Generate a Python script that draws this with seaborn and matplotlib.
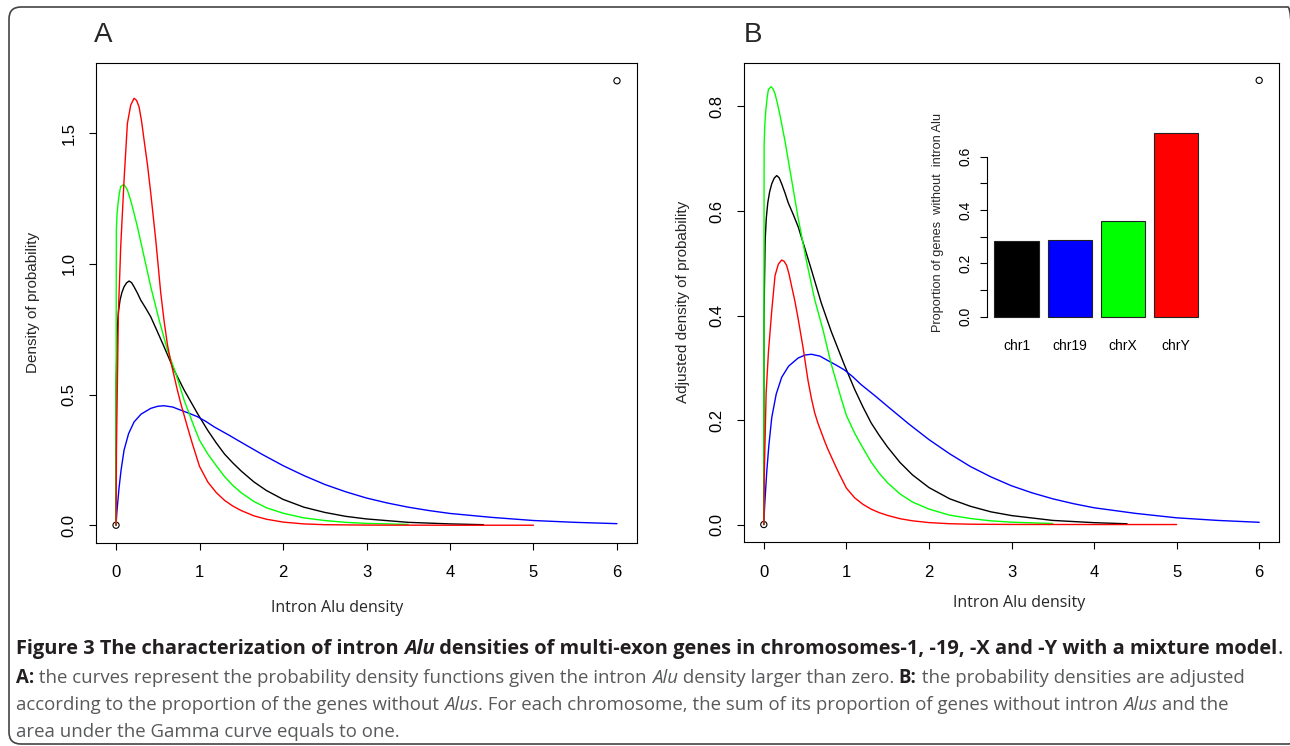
import numpy as np
import pandas as pd
import seaborn as sns
import matplotlib.pyplot as plt
from matplotlib.patches import FancyBboxPatch
from matplotlib.transforms import IdentityTransform

# ---- data ----
chroms = ["chr1", "chr19", "chrX", "chrY"]
chrom_colors = ["#000000", "#0000FF", "#00FF00", "#FF0000"]
prop_no_alu = [0.285, 0.287, 0.357, 0.69]

# panel A densities (Gamma curves for intron Alu density > 0)
chr1_x = [0, 0.002, 0.016, 0.03, 0.048, 0.07, 0.096, 0.126, 0.156, 0.186, 0.216,
          0.256, 0.296, 0.356, 0.416, 0.496, 0.576, 0.696, 0.816, 0.976, 1.1, 1.2,
          1.3, 1.4, 1.5, 1.65, 1.8, 2.0, 2.25, 2.5, 2.75, 3.0, 3.5, 4.0, 4.4]
chr1_y = [0, 0.555, 0.759, 0.82, 0.861, 0.89, 0.912, 0.927, 0.934, 0.928, 0.912,
          0.888, 0.861, 0.83, 0.797, 0.74, 0.682, 0.593, 0.517, 0.427, 0.362, 0.315,
          0.272, 0.238, 0.207, 0.166, 0.133, 0.099, 0.069, 0.049, 0.034, 0.024, 0.011,
          0.005, 0.002]

chr19_x = [0, 0.01, 0.035, 0.06, 0.096, 0.15, 0.216, 0.3, 0.416, 0.5, 0.576, 0.68,
           0.776, 0.876, 0.976, 1.076, 1.176, 1.35, 1.5, 1.756, 2.0, 2.25, 2.5, 2.75,
           3.0, 3.25, 3.5, 3.75, 4.0, 4.5, 5.0, 5.5, 6.0]
chr19_y = [0, 0.05, 0.14, 0.21, 0.287, 0.35, 0.395, 0.425, 0.447, 0.455, 0.457, 0.452,
           0.44, 0.428, 0.415, 0.397, 0.376, 0.345, 0.317, 0.27, 0.228, 0.19, 0.156,
           0.128, 0.104, 0.085, 0.069, 0.056, 0.045, 0.030, 0.018, 0.011, 0.006]

chrX_x = [0, 0.002, 0.004, 0.012, 0.024, 0.04, 0.056, 0.088, 0.11, 0.136, 0.166,
          0.196, 0.256, 0.336, 0.416, 0.516, 0.616, 0.716, 0.816, 0.936, 1.0, 1.1,
          1.2, 1.3, 1.4, 1.5, 1.65, 1.8, 2.0, 2.25, 2.5, 2.75, 3.0, 3.5]
chrX_y = [0, 0.81, 1.13, 1.19, 1.231, 1.27, 1.295, 1.303, 1.297, 1.282, 1.252,
          1.218, 1.142, 1.027, 0.912, 0.785, 0.67, 0.58, 0.478, 0.376, 0.325, 0.272,
          0.228, 0.186, 0.152, 0.124, 0.091, 0.067, 0.046, 0.028, 0.018, 0.011,
          0.007, 0.003]

chrY_x = [0, 0.005, 0.028, 0.056, 0.096, 0.136, 0.176, 0.216, 0.246, 0.276, 0.306,
          0.336, 0.376, 0.416, 0.476, 0.536, 0.576, 0.616, 0.656, 0.696, 0.736, 0.776,
          0.816, 0.856, 0.916, 1.0, 1.1, 1.2, 1.3, 1.4, 1.5, 1.65, 1.8, 2.0, 2.25, 2.5,
          3.0, 4.0, 5.0]
chrY_y = [0, 0.29, 0.81, 1.065, 1.32, 1.537, 1.607, 1.633, 1.625, 1.60, 1.545,
          1.473, 1.38, 1.27, 1.09, 0.887, 0.78, 0.69, 0.625, 0.57, 0.515, 0.465,
          0.42, 0.375, 0.31, 0.225, 0.165, 0.125, 0.095, 0.073, 0.056, 0.036, 0.023,
          0.012, 0.005, 0.002, 0.0005, 0.0, 0.0]

# the two plot() points R used to set up each frame
frame_x = [0, 6]
frame_y_a = [0, 1.7]
frame_y_b = [0, 0.85]

curves_x = [chr1_x, chr19_x, chrX_x, chrY_x]
curves_y = [chr1_y, chr19_y, chrX_y, chrY_y]

rows = []
for name, p, xs, ys in zip(chroms, prop_no_alu, curves_x, curves_y):
    for xv, yv in zip(xs, ys):
        # panel B: density scaled by the share of genes that do have Alus
        rows.append((name, xv, yv, yv * (1 - p)))
df = pd.DataFrame(rows, columns=["chrom", "x", "density", "adjusted"])

# ---- figure ----
W, H = 1290, 746
sns.set_style("ticks")
plt.rcParams['font.family'] = ['Liberation Sans', 'DejaVu Sans']
CAP_FONT = ['Open Sans', 'DejaVu Sans']

fig = plt.figure(figsize=(W / 100, H / 100), dpi=100)


def axes_px(left, top, right, bottom):
    return fig.add_axes([left / W, 1 - bottom / H, (right - left) / W, (bottom - top) / H])


def style_main(ax, yticks, ylim):
    ax.set_xlim(-0.24, 6.24)
    ax.set_ylim(*ylim)
    ax.set_xticks(range(7))
    ax.set_yticks(yticks)
    ax.set_yticklabels([f"{v:.1f}" for v in yticks])
    ax.tick_params(direction="out", length=5, width=0.8, color="black",
                   labelsize=12, labelcolor="black")
    ax.tick_params(axis="x", pad=11)
    ax.tick_params(axis="y", labelrotation=90, pad=9)
    for lab in ax.get_yticklabels():
        lab.set_va("center")
    for s in ax.spines.values():
        s.set_color("black")
        s.set_linewidth(0.8)
    ax.set_xlabel("")
    ax.set_ylabel("")


axA = axes_px(96, 63, 637, 543)
sns.lineplot(data=df, x="x", y="density", hue="chrom", hue_order=chroms,
             palette=chrom_colors, estimator=None, lw=1.0, legend=False, ax=axA)
sns.scatterplot(x=frame_x, y=frame_y_a, ax=axA, marker="o", s=20,
                facecolors="none", edgecolors="black", linewidth=0.8)
style_main(axA, [0, 0.5, 1.0, 1.5], (-0.068, 1.768))

axB = axes_px(744, 62.6, 1279, 542.3)
sns.lineplot(data=df, x="x", y="adjusted", hue="chrom", hue_order=chroms,
             palette=chrom_colors, estimator=None, lw=1.0, legend=False, ax=axB)
sns.scatterplot(x=frame_x, y=frame_y_b, ax=axB, marker="o", s=20,
                facecolors="none", edgecolors="black", linewidth=0.8)
style_main(axB, [0, 0.2, 0.4, 0.6, 0.8], (-0.034, 0.884))

# inset bar chart
axI = axes_px(986.7, 125.3, 1206, 324.1)
sns.barplot(x=chroms, y=prop_no_alu, hue=chroms, palette=chrom_colors, legend=False,
            saturation=1, width=0.833, edgecolor="#222222", linewidth=0.8, ax=axI)
axI.set_xlim(-0.56, 3.56)
axI.set_ylim(-0.0276, 0.7176)
axI.set_yticks([0, 0.1, 0.2, 0.3, 0.4, 0.5, 0.6])
axI.set_yticklabels(["0.0", "", "0.2", "", "0.4", "", "0.6"])
for side in ["top", "right", "bottom"]:
    axI.spines[side].set_visible(False)
axI.spines["left"].set_bounds(0, 0.6)
axI.spines["left"].set_color("black")
axI.spines["left"].set_linewidth(0.8)
axI.patch.set_alpha(0)
axI.tick_params(axis="y", direction="out", length=5, width=0.8, color="black",
                labelsize=10, labelcolor="black", labelrotation=90, pad=5)
axI.tick_params(axis="x", length=0, labelsize=10, labelcolor="black", pad=11)
for lab in axI.get_yticklabels():
    lab.set_va("center")
axI.set_xlabel("")
axI.set_ylabel("")


def ftext(x, y, s, **kw):
    return fig.text(x / W, 1 - y / H, s, **kw)


ftext(938, 222, "Proportion of genes  without  intron Alu", rotation=90,
      ha="center", va="center", fontsize=9.2)

# panel letters and axis titles
ftext(103.5, 35, "A", ha="center", va="center", fontsize=20)
ftext(753.5, 35, "B", ha="center", va="center", fontsize=20)
ftext(33, 302, "Density of probability", rotation=90, ha="center", va="center", fontsize=11)
ftext(683.5, 302, "Adjusted density of probability", rotation=90, ha="center",
      va="center", fontsize=11)
ftext(337, 608, "Intron Alu density", ha="center", va="center", fontsize=11.5,
      family=CAP_FONT)
ftext(1019, 603, "Intron Alu density", ha="center", va="center", fontsize=11.5,
      family=CAP_FONT)

# ---- caption with mixed styles ----
renderer = fig.canvas.get_renderer()
DARK = "#231f20"
GREY = "#58595b"
TITLE_SIZE = 14.4
BODY_SIZE = 13.4


def run_width(text, **kw):
    t1 = fig.text(0, 0, text + "|", **kw)
    t2 = fig.text(0, 0, "|", **kw)
    w = t1.get_window_extent(renderer).width - t2.get_window_extent(renderer).width
    t1.remove()
    t2.remove()
    return w


def draw_runs(x, y, runs, size):
    for text, weight, style, color in runs:
        kw = dict(fontsize=size, fontweight=weight, fontstyle=style,
                  color=color, family=CAP_FONT)
        ftext(x, y, text, ha="left", va="baseline", **kw)
        x += run_width(text, **kw)


draw_runs(16, 654, [
    ("Figure 3 The characterization of intron ", "bold", "normal", DARK),
    ("Alu", "bold", "italic", DARK),
    (" densities of multi-exon genes in chromosomes-1, -19, -X and -Y with a mixture model",
     "bold", "normal", DARK),
    (".", "normal", "normal", DARK),
], TITLE_SIZE)
draw_runs(16, 683, [
    ("A:", "bold", "normal", DARK),
    (" the curves represent the probability density functions given the intron ",
     "normal", "normal", GREY),
    ("Alu", "normal", "italic", GREY),
    (" density larger than zero. ", "normal", "normal", GREY),
    ("B:", "bold", "normal", DARK),
    (" the probability densities are adjusted", "normal", "normal", GREY),
], BODY_SIZE)
draw_runs(16, 710, [
    ("according to the proportion of the genes without ", "normal", "normal", GREY),
    ("Alus", "normal", "italic", GREY),
    (". For each chromosome, the sum of its proportion of genes without intron ",
     "normal", "normal", GREY),
    ("Alus", "normal", "italic", GREY),
    (" and the", "normal", "normal", GREY),
], BODY_SIZE)
draw_runs(16, 737, [
    ("area under the Gamma curve equals to one.", "normal", "normal", GREY),
], BODY_SIZE)

# rounded frame around the figure panel
frame = FancyBboxPatch((9, H - 744), 1300 - 9, 744 - 7,
                       boxstyle="round,pad=0,rounding_size=12",
                       transform=IdentityTransform(), fill=False,
                       edgecolor="#444444", linewidth=1.2)
fig.add_artist(frame)

fig.savefig("out.png", dpi=100)
plt.close(fig)
